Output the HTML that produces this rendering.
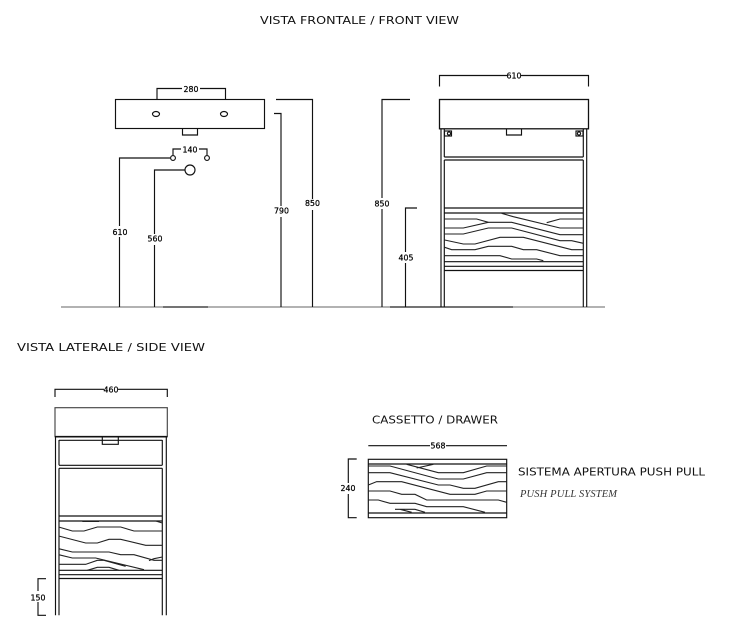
<!DOCTYPE html>
<html>
<head>
<meta charset="utf-8">
<style>
html,body{margin:0;padding:0;background:#fff}
svg{display:block}
text{font-family:"DejaVu Sans",sans-serif;fill:#111}
.t{font-size:11px}
.d{font-size:7.8px;text-anchor:middle;fill:#000;stroke:#000;stroke-width:.25}
.l{fill:none;stroke:#111;stroke-width:1.15}
.g{fill:none;stroke:#222;stroke-width:3.3}
.w{fill:#fff;stroke:none}
</style>
</head>
<body>
<svg width="749" height="627" viewBox="0 0 749 627" xmlns="http://www.w3.org/2000/svg">
<rect width="749" height="627" fill="#fff"/>

<!-- Titles -->
<text class="t" x="260" y="24" textLength="199" lengthAdjust="spacingAndGlyphs">VISTA FRONTALE / FRONT VIEW</text>
<text class="t" x="17" y="351" textLength="188" lengthAdjust="spacingAndGlyphs">VISTA LATERALE / SIDE VIEW</text>
<text class="t" x="372" y="423.5" textLength="126" lengthAdjust="spacingAndGlyphs">CASSETTO / DRAWER</text>
<text class="t" x="518" y="475.5" textLength="187" lengthAdjust="spacingAndGlyphs">SISTEMA APERTURA PUSH PULL</text>
<text x="520" y="497" textLength="97" lengthAdjust="spacing" style="font-family:'Liberation Serif',serif;font-style:italic;font-size:10.5px;fill:#333">PUSH PULL SYSTEM</text>

<!-- Ground -->
<path d="M61 307H605" stroke="#666" stroke-width="1" fill="none"/>
<path d="M163 307H208M390 307H513" stroke="#222" stroke-width="1.2" fill="none"/>

<!-- Front: basin plan -->
<g class="l">
<rect x="115.5" y="99.5" width="149" height="29"/>
<ellipse cx="156" cy="114" rx="3.5" ry="2.5"/>
<ellipse cx="224" cy="114" rx="3.5" ry="2.5"/>
<path d="M182.5 129V135H197.5V129"/>
<path d="M157 99V88.5H182M200 88.5H225.5V99"/>
<circle cx="173" cy="158" r="2.4"/>
<circle cx="207" cy="158" r="2.4"/>
<circle cx="190" cy="170" r="5"/>
<path d="M173 155V149H181M199 149H207V155"/>
<path d="M170 158H119.5V307"/>
<path d="M185 170H154.5V307"/>
<path d="M274 113.5H281V307"/>
<path d="M276 99.5H312.5V307"/>
</g>
<rect class="w" x="113" y="226" width="14" height="11"/>
<rect class="w" x="148" y="234" width="14" height="11"/>
<rect class="w" x="274" y="206" width="15" height="11"/>
<rect class="w" x="305" y="199" width="15" height="11"/>
<text class="d" x="191" y="92">280</text>
<text class="d" x="190" y="152.5">140</text>
<text class="d" x="120" y="235">610</text>
<text class="d" x="155" y="241.5">560</text>
<text class="d" x="281.5" y="213.5">790</text>
<text class="d" x="312.5" y="206">850</text>

<!-- Front view cabinet -->
<g class="l">
<path d="M439.5 86.5V75.5H507M521 75.5H588.5V86.5"/>
<rect x="439.5" y="99.5" width="149" height="29.3" stroke-width="1.3"/>
<path d="M382 307V99.5H410"/>
<path d="M405.5 307V208H417"/>
<path d="M441 129V307M444.3 129V157M444.3 160V307"/>
<path d="M583.3 129V157M583.3 160V307M586.7 129V307"/>
<path d="M444.3 157H583.3M444.3 160H583.3"/>
<path d="M506.5 129V135H521.5V129"/>
<rect x="444.5" y="131" width="7" height="5"/>
<circle cx="449" cy="133.5" r="1.6"/>
<rect x="576" y="131" width="7" height="5"/>
<circle cx="579" cy="133.5" r="1.6"/>
<path d="M444.3 208H583.3M444.3 213H583.3"/>
<path d="M444.3 261.7H583.3M444.3 266.3H583.3M444.3 270.5H583.3"/>
</g>
<rect class="w" x="375" y="198" width="15" height="11"/>
<rect class="w" x="399" y="252" width="15" height="11"/>
<text class="d" x="382" y="206.5">850</text>
<text class="d" x="406" y="260.5">405</text>
<text class="d" x="514" y="78.5">610</text>
<g class="g" transform="translate(440 204) scale(.33333)">
<path d="M185 28L220 38L360 72H430"/>
<path d="M14 45H110L145 55H215L360 92H430"/>
<path d="M430 45H360L320 56"/>
<path d="M14 72H70L145 55"/>
<path d="M14 90H70L145 72H215L360 110H395L430 118"/>
<path d="M14 108L70 120H105L180 100H250L395 137H430"/>
<path d="M14 130L35 137H105L145 127H215L250 137H290L360 155H430"/>
<path d="M14 155H180L215 165H290L310 170"/>
</g>

<!-- Side view -->
<g class="l">
<path d="M55 397V389.3H104M118 389.3H167.3V397"/>
<rect x="55" y="407.7" width="112.3" height="29" stroke="#444"/>
<path d="M55 436.7H167.3" stroke-width="1.7"/>
<path d="M55.5 437V615.3M59 440V465.3M59 468.3V615.3"/>
<path d="M162.3 440V465.3M162.3 468.3V615.3M166.3 437V615.3"/>
<path d="M59 440.3H162.3M59 465.3H162.3M59 468.3H162.3"/>
<path d="M102.3 437V444.3H118.3V437"/>
<path d="M59 516H162.3M59 521H162.3M59 570.3H162.3M59 574.7H162.3M59 578.5H162.3"/>
<path d="M46 578.7H38V615.3H46"/>
</g>
<rect class="w" x="31" y="591" width="14" height="11"/>
<text class="d" x="111" y="392.5">460</text>
<text class="d" x="38" y="600.5">150</text>
<g class="g" transform="translate(54 512) scale(.33333)">
<path d="M85 28H135" stroke-width="4"/>
<path d="M305 27L325 33"/>
<path d="M14 45L55 57H90L130 45H200L240 57H325"/>
<path d="M14 72L95 93H130L165 82H200L275 100H325"/>
<path d="M14 110L55 120H165L200 128H240L300 145H325"/>
<path d="M14 128L55 138H125L270 173"/>
<path d="M325 135L300 140L285 146"/>
<path d="M14 157H95L130 145H150L215 163"/>
<path d="M100 175L130 166H165L195 175"/>
</g>

<!-- Drawer -->
<g class="l">
<path d="M368.3 445.7H430M446 445.7H507"/>
<rect x="368.3" y="459.3" width="138.4" height="58.4"/>
<path d="M368.3 464H506.7M368.3 513H506.7"/>
<path d="M356.7 459H348.3V517.7H356.7"/>
</g>
<rect class="w" x="341" y="483" width="15" height="11"/>
<text class="d" x="438" y="448.5">568</text>
<text class="d" x="348" y="491">240</text>
<g class="g" transform="translate(365 455) scale(.33333)">
<path d="M125 28L220 53H295L365 33H425"/>
<path d="M155 39L205 28"/>
<path d="M10 33H75L220 72H295L365 53H425"/>
<path d="M10 53H75L220 90H255L295 100H330L400 80H425"/>
<path d="M10 90L35 80H110L255 118H330L365 108H425"/>
<path d="M10 108H75L110 118H150L185 135H400L425 142"/>
<path d="M10 135H40L75 145H150L185 155H295L360 172"/>
<path d="M90 163H150L180 172M105 163L140 172"/>
</g>
</svg>
</body>
</html>
